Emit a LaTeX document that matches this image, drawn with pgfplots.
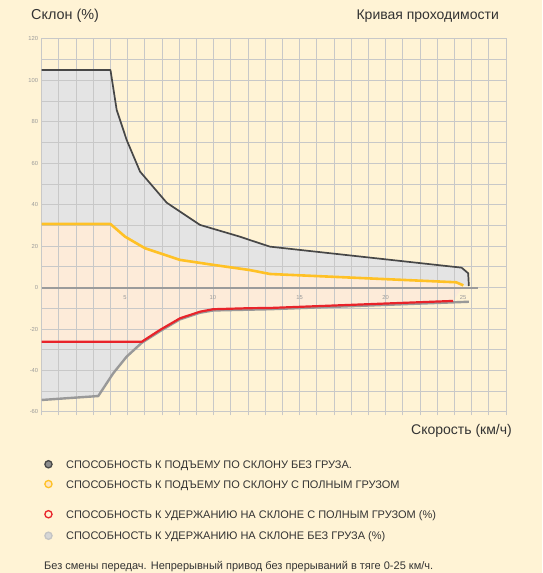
\documentclass[border=0pt]{standalone}
\usepackage{fontspec}
\setmainfont{Liberation Sans}
\usepackage{pgfplots}
\pgfplotsset{compat=1.18}
\usepgfplotslibrary{fillbetween}
\definecolor{cream}{HTML}{FFF3D5}
\definecolor{gridc}{HTML}{C8C8C8}
\definecolor{tickc}{HTML}{9A9A9A}
\definecolor{txtc}{HTML}{333333}
\definecolor{blkc}{HTML}{474747}
\definecolor{ylwc}{HTML}{FFC125}
\definecolor{redc}{HTML}{E8232A}
\definecolor{grayc}{HTML}{999999}
\definecolor{zeroc}{HTML}{9B9B9B}
\definecolor{fgray}{HTML}{E4E4E4}
\definecolor{fpeach}{HTML}{FDEBD9}
\definecolor{leg1f}{HTML}{8E8E8E}
\definecolor{leg2f}{HTML}{FDE4C4}
\definecolor{leg4d}{HTML}{C4C4C4}
\definecolor{leg4f}{HTML}{D6D6D6}
\pagecolor{cream}
\pgfplotsset{
  legcommon/.style={
    legend image code/.code={\draw[##1] (0pt,0pt) circle (3.6pt);},
    legend cell align=left,
    legend style={draw=none, fill=none, inner sep=0pt, outer sep=0pt,
      font=\fontsize{11}{13}\selectfont, text=txtc,
      nodes={inner sep=0pt, text height=8pt, text depth=0pt},
      /tikz/every odd column/.append style={column sep=13.4pt}},
  }
}
\begin{document}
\begin{tikzpicture}
\path (0,0) rectangle (542pt,573pt);
\begin{axis}[
  set layers,
  at={(41.7pt,161pt)}, anchor=south west,
  scale only axis, width=464.3pt, height=373pt,
  xmin=0, xmax=27, ymin=-60, ymax=120,
  axis line style={draw=gridc, line width=1pt},
  xtick={4.85,9.95,15,20,24.5}, xticklabels={5,10,15,20,25},
  minor xtick={0,1,...,27},
  ytick={-60,-40,...,120}, minor ytick={-50,-30,...,110},
  xmajorgrids=false, xminorgrids=true, ymajorgrids=true, yminorgrids=true,
  grid style={gridc, line width=1pt}, minor grid style={gridc, line width=1pt},
  xtick pos=bottom, ytick pos=left, tick align=outside,
  major tick length=0pt, minor tick length=3.5pt,
  minor tick style={gridc, line width=1pt},
  y tick style={draw=none},
  tick label style={font=\fontsize{5.8}{6}\selectfont, text=tickc},
  /pgf/number format/assume math mode=true,
  xticklabel style={yshift=120pt},
  legcommon,
  legend style={at={(0.0054,-0.1287)}, anchor=north west,
     /tikz/row sep=11.3pt},
]
\addlegendimage{draw=blkc, fill=leg1f, line width=1.3pt}
\addlegendentry{СПОСОБНОСТЬ К ПОДЪЕМУ ПО СКЛОНУ БЕЗ ГРУЗА.}
\addlegendimage{draw=ylwc, fill=leg2f, line width=1.3pt}
\addlegendentry{СПОСОБНОСТЬ К ПОДЪЕМУ ПО СКЛОНУ С ПОЛНЫМ ГРУЗОМ}

\addplot[name path=blk, draw=none, forget plot] coordinates {
 (0,105) (4,105) (4.36,85.8) (4.94,71.3) (5.72,56) (7.27,41) (9.2,30.3)
 (11.53,24.6) (12.1,23) (13.27,19.8) (24.42,9.65) (24.8,6.95) (24.84,0.8)};
\addplot[name path=ylw, draw=none, forget plot] coordinates {
 (0,30.7) (4,30.7) (4.85,24.6) (6.01,19) (8.04,13.4) (9.98,11) (12.1,8.5)
 (13.27,6.6) (24.1,2.6) (24.52,1.1)};
\addplot[name path=red, draw=none, forget plot] coordinates {
 (0,-26.1) (5.82,-26.1) (6.88,-20.4) (8.04,-14.8) (9.2,-11.6) (9.98,-10.4)
 (12.1,-9.9) (13.27,-9.8) (23.93,-6.4)};
\addplot[name path=gry, draw=none, forget plot] coordinates {
 (0,-54.2) (3.29,-52.3) (4.16,-41.3) (4.94,-33.3) (5.82,-26.6) (6.88,-21)
 (8.04,-15.3) (9.2,-12.1) (9.98,-11) (13.27,-10.4) (24.84,-6.8)};

\addplot[fill=fgray, draw=none, forget plot] fill between[of=blk and ylw, on layer=axis background];
\addplot[fill=fpeach, draw=none, forget plot] fill between[of=ylw and red, on layer=axis background];
\addplot[fill=fgray, draw=none, forget plot] fill between[of=red and gry, on layer=axis background];

\addplot[zeroc, line width=2.2pt, forget plot] coordinates {(0,0) (25.39,0)};
\addplot[grayc, line width=2.4pt, line join=round, forget plot] coordinates {
 (0,-54.2) (3.29,-52.3) (4.16,-41.3) (4.94,-33.3) (5.82,-26.6) (6.88,-21)
 (8.04,-15.3) (9.2,-12.1) (9.98,-11) (13.27,-10.4) (24.84,-6.8)};
\addplot[redc, line width=2.2pt, line join=round, forget plot] coordinates {
 (0,-26.1) (5.82,-26.1) (6.88,-20.4) (8.04,-14.8) (9.2,-11.6) (9.98,-10.4)
 (12.1,-9.9) (13.27,-9.8) (23.93,-6.4)};
\addplot[ylwc, line width=2.6pt, line join=round, forget plot] coordinates {
 (0,30.7) (4,30.7) (4.85,24.6) (6.01,19) (8.04,13.4) (9.98,11) (12.1,8.5)
 (13.27,6.6) (24.1,2.6) (24.52,1.1)};
\addplot[blkc, line width=1.7pt, line join=round, forget plot] coordinates {
 (0,105) (4,105) (4.36,85.8) (4.94,71.3) (5.72,56) (7.27,41) (9.2,30.3)
 (11.53,24.6) (12.1,23) (13.27,19.8) (24.42,9.65) (24.8,6.95) (24.84,0.8)};
\end{axis}
\begin{axis}[
  at={(41.7pt,161pt)}, anchor=south west,
  scale only axis, width=464.3pt, height=373pt,
  xmin=0, xmax=1, ymin=0, ymax=1, hide axis,
  legcommon,
  legend style={at={(0.0054,-0.2627)}, anchor=north west,
     /tikz/row sep=13pt},
]
\addplot[draw=none, forget plot] coordinates {(0,0) (1,1)};
\addlegendimage{draw=redc, fill=cream, line width=1.3pt}
\addlegendentry{СПОСОБНОСТЬ К УДЕРЖАНИЮ НА СКЛОНЕ С ПОЛНЫМ ГРУЗОМ (\%)}
\addlegendimage{draw=leg4d, fill=leg4f, line width=1.3pt}
\addlegendentry{СПОСОБНОСТЬ К УДЕРЖАНИЮ НА СКЛОНЕ БЕЗ ГРУЗА (\%)}
\end{axis}
\node[anchor=west, text=txtc, font=\fontsize{14.4}{16}\selectfont, inner sep=0pt] at (31pt,556.8pt) {Склон (\%)};
\node[anchor=east, text=txtc, font=\fontsize{14}{16}\selectfont, inner sep=0pt] at (499pt,556.8pt) {Кривая проходимости};
\node[anchor=east, text=txtc, font=\fontsize{14}{16}\selectfont, inner sep=0pt] at (512pt,142pt) {Скорость (км/ч)};
\node[anchor=west, text=txtc, font=\fontsize{11}{13}\selectfont, inner sep=0pt] at (44pt,6.3pt) {Без смены передач. Непрерывный привод без прерываний в тяге 0-25 км/ч.};
\end{tikzpicture}
\end{document}
